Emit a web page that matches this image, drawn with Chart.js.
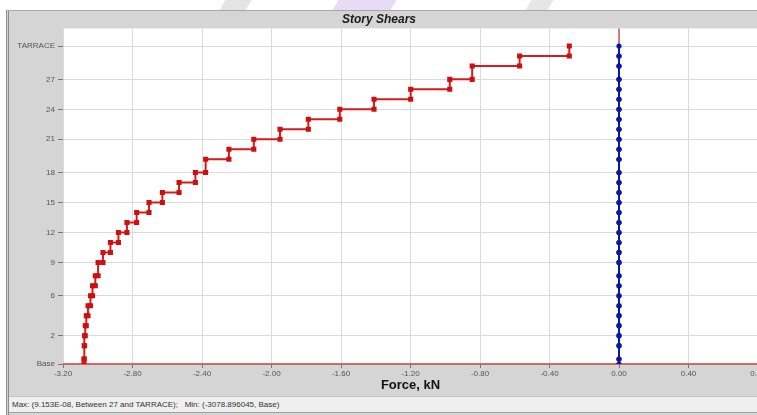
<!DOCTYPE html>
<html>
<head>
<meta charset="utf-8">
<script src="https://cdn.jsdelivr.net/npm/chart.js@4.4.1/dist/chart.umd.min.js"></script>
<style>
  html, body { margin: 0; padding: 0; }
  body { width: 757px; height: 415px; overflow: hidden; position: relative; background: #ffffff; font-family: "Liberation Sans", Arial, sans-serif; }
  .mark { position: absolute; top: 0; height: 12px; transform: skewX(-30deg); }
  .frame { position: absolute; left: 6px; top: 10px; width: 860px; height: 405px; background: #d5d5d5;
           border-left: 3px double #8c8c8c; border-top: 1px solid #a8a8a8; box-sizing: border-box; }
  #wrap { position: absolute; left: 0; top: 0; width: 820px; height: 396px; }
  .status { position: absolute; left: 9px; top: 396px; width: 860px; height: 17px; background: #efefef;
            border-top: 1px solid #c4c4c4; border-bottom: 1px solid #a0a0a0; box-sizing: border-box;
            font-size: 8px; color: #333; line-height: 16px; padding-left: 3px; white-space: pre; }
</style>
</head>
<body>
<div class="mark" style="left:222px;width:26px;background:#e4e4e4;"></div>
<div class="mark" style="left:335px;width:58px;background:#e6dcf3;"></div>
<div class="mark" style="left:528px;width:22px;background:#e6e6e6;"></div>
<div class="frame"></div>
<div id="wrap"><canvas id="c" width="820" height="396"></canvas></div>
<div class="status">Max: (9.153E-08, Between 27 and TARRACE);   Min: (-3078.896045, Base)</div>
<script>
// Story levels, bottom to top, with elevations (m)
const levelNames = ['Base','Plinth','1','2','3','4','5','6','7','8','9','10','11','12','13','14','15',
                    '16','17','18','19','20','21','22','23','24','25','26','27','28','29','TARRACE'];
const levelElev  = [0, 1.5, 5.5, 8.5, 11.5, 14.5, 17.5, 20.5, 23.5, 26.5, 30.5, 33.5, 36.5, 39.5, 42.5, 45.5,
                    48.5, 51.5, 54.5, 57.5, 61.5, 64.5, 67.5, 70.5, 73.5, 76.5, 79.5, 82.5, 85.5, 89.5, 92.5, 95.5];

// Story shears (x 1000 kN), one value per story, bottom story first
const shearX = [-3.079, -3.078, -3.076, -3.072, -3.066, -3.056, -3.042, -3.030, -3.014, -2.998,
                -2.970, -2.927, -2.881, -2.832, -2.776, -2.705, -2.628, -2.532, -2.438, -2.379,
                -2.245, -2.102, -1.951, -1.788, -1.607, -1.410, -1.199, -0.974, -0.845, -0.572, -0.286];
const shearY = [0, 0, 0, 0, 0, 0, 0, 0, 0, 0, 0, 0, 0, 0, 0, 0,
                0, 0, 0, 0, 0, 0, 0, 0, 0, 0, 0, 0, 0, 0, 0];

// Labelled levels on the vertical axis
const yTickLabels = ['Base', '2', '6', '9', '12', '15', '18', '21', '24', '27', 'TARRACE'];
const xTicks = { min: -3.2, max: 0.8, step: 0.4 };

// Each story contributes its shear at its bottom and top level
function stepPoints(vals) {
  const pts = [];
  vals.forEach((v, i) => {
    pts.push({ x: v, y: levelElev[i] });
    pts.push({ x: v, y: levelElev[i + 1] });
  });
  return pts;
}

const yTickVals = yTickLabels.map(n => levelElev[levelNames.indexOf(n)]);

const panelPlugin = {
  id: 'panel',
  beforeDraw(chart) {
    const { ctx, chartArea: a } = chart;
    ctx.save();
    ctx.fillStyle = '#ffffff';
    ctx.fillRect(a.left, a.top, a.right - a.left, a.bottom - a.top);
    ctx.restore();
  },
  beforeDatasetsDraw(chart) {
    const { ctx, chartArea: a, scales } = chart;
    const x0 = scales.x.getPixelForValue(0);
    const y0 = scales.y.getPixelForValue(0);
    ctx.save();
    ctx.strokeStyle = '#cc2a2a';
    ctx.lineWidth = 1.2;
    ctx.beginPath();
    ctx.moveTo(x0, a.top);
    ctx.lineTo(x0, a.bottom);
    ctx.stroke();
    ctx.strokeStyle = '#d23a3a';
    ctx.lineWidth = 1.6;
    ctx.beginPath();
    ctx.moveTo(a.left, y0);
    ctx.lineTo(a.right + 60, y0);
    ctx.stroke();
    ctx.restore();
  }
};

new Chart(document.getElementById('c'), {
  type: 'scatter',
  data: {
    datasets: [
      {
        data: stepPoints(shearY),
        showLine: true,
        borderColor: '#0a16a8',
        backgroundColor: '#0a16a8',
        borderWidth: 2,
        pointStyle: 'circle',
        pointRadius: 2.6,
        pointBorderWidth: 0
      },
      {
        data: stepPoints(shearX),
        showLine: true,
        borderColor: '#d41c1c',
        backgroundColor: '#cc1010',
        borderWidth: 2,
        pointStyle: 'rect',
        pointRadius: 3.6,
        pointBorderWidth: 0
      }
    ]
  },
  plugins: [panelPlugin],
  options: {
    responsive: false,
    animation: false,
    devicePixelRatio: 1,
    layout: { padding: { left: 0, right: 62, top: 0, bottom: 0 } },
    plugins: {
      legend: { display: false },
      tooltip: { enabled: false },
      title: {
        display: true,
        text: 'Story Shears',
        color: '#1a1a1a',
        font: { family: '"Liberation Sans", Arial, sans-serif', size: 12, weight: 'bold', style: 'italic' },
        padding: { top: 12, bottom: 2 }
      }
    },
    scales: {
      x: {
        type: 'linear',
        min: xTicks.min,
        max: xTicks.max,
        afterFit(s) { s.height = 32; },
        ticks: {
          stepSize: xTicks.step,
          color: '#555555',
          padding: 1,
          maxRotation: 0,
          autoSkip: false,
          font: { family: '"Liberation Sans", Arial, sans-serif', size: 8 },
          callback: v => (Math.abs(v) < 1e-9 ? 0 : v).toFixed(2)
        },
        grid: { color: '#dadada', lineWidth: 1, tickLength: 4, tickColor: '#777777' },
        border: { display: false },
        title: {
          display: true,
          text: 'Force, kN',
          color: '#111111',
          font: { family: '"Liberation Sans", Arial, sans-serif', size: 13, weight: 'bold' },
          padding: { top: 0, bottom: 3 }
        }
      },
      y: {
        type: 'linear',
        min: 0,
        max: 100.8,
        afterFit(s) { s.width = 63; },
        afterBuildTicks(s) { s.ticks = yTickVals.map(v => ({ value: v })); },
        ticks: {
          color: '#555555',
          padding: 3,
          autoSkip: false,
          font: { family: '"Liberation Sans", Arial, sans-serif', size: 8 },
          callback: (v, i) => yTickLabels[i]
        },
        grid: { color: '#dadada', lineWidth: 1, tickLength: 5, tickColor: '#777777' },
        border: { display: false }
      }
    }
  }
});
</script>
</body>
</html>
